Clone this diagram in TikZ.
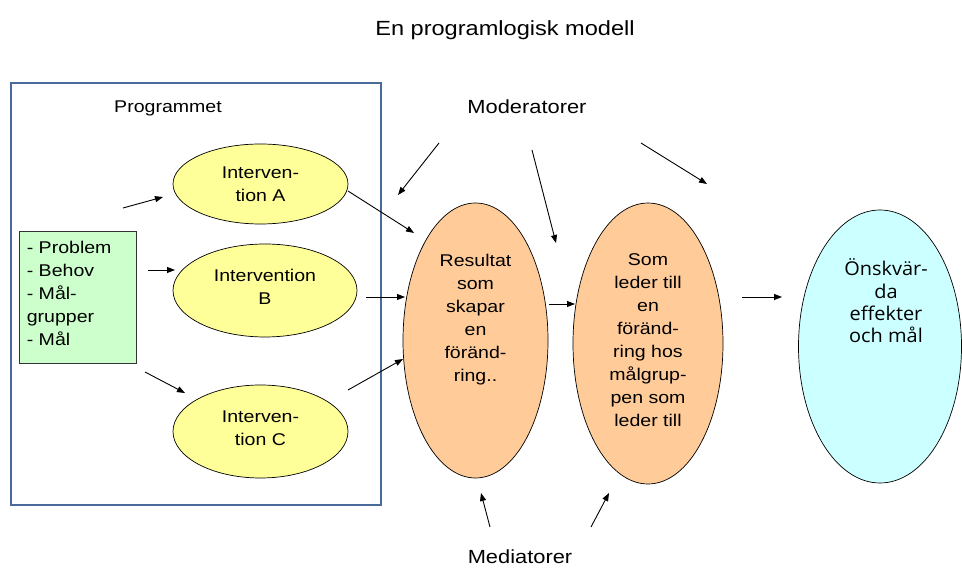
\documentclass[tikz,border=0pt]{standalone}
\usepackage{fontspec}
\setmainfont{Liberation Sans}[FakeStretch=1.15]
\newfontfamily\goalfont{Open Sans}[FakeStretch=1.05]
\usepackage{xcolor}
\usetikzlibrary{arrows.meta, positioning, shapes.geometric}
\definecolor{progblue}{HTML}{4A6A9C}
\definecolor{needsgreen}{HTML}{CCFFCC}
\definecolor{intyellow}{HTML}{FFFF99}
\definecolor{resorange}{HTML}{FFCC99}
\definecolor{goalcyan}{HTML}{CCFFFF}
\tikzset{
    arr/.style={-{Triangle[length=8pt,width=6pt]}, line width=0.9pt},
    blob/.style={ellipse, draw=black, line width=0.7pt, inner sep=0pt, align=center},
    txt/.style={align=center, inner sep=0pt},
    every node/.style={font=\fontsize{17}{23}\selectfont}
}

\begin{document}
\begin{tikzpicture}[x=1pt, y=1pt]
    \useasboundingbox (0,0) rectangle (962,568);
    % Headings
    \node[anchor=base, font=\fontsize{20.5}{24}\selectfont] (title) at (505,532) {En programlogisk modell};
    \node[anchor=base, font=\fontsize{19}{23}\selectfont] (mod) at (527,454) {Moderatorer};
    \node[anchor=base, font=\fontsize{19}{23}\selectfont] (med) at (520,5) {Mediatorer};
    % The programme
    \draw[progblue, line width=2.5pt] (11,63) rectangle (381,485);
    \node[anchor=base] (prog) at (168,455) {Programmet};
    \node[draw=black!80, fill=needsgreen, line width=0.8pt, minimum width=117pt, minimum height=132pt,
          inner sep=0pt] (needs) at (77.5,271) {};
    \node[align=left, inner sep=0pt, below right=10pt and 8pt of needs.north west] (needstxt)
        {- Problem\\- Behov\\- Mål-\\grupper\\- Mål};
    \node[blob, fill=intyellow, minimum width=175pt, minimum height=80pt] (intA) at (260.5,384) {Interven-\\tion A};
    \node[blob, fill=intyellow, minimum width=184pt, minimum height=93pt, text depth=8pt] (intB) at (265,277.5) {Intervention\\B};
    \node[blob, fill=intyellow, minimum width=175pt, minimum height=93pt, text depth=7pt] (intC) at (260.5,136.5) {Interven-\\tion C};
    % Results and effects
    \node[blob, fill=resorange, minimum width=145pt, minimum height=275pt] (result) at (475.5,227.5) {};
    \node[txt, below=51pt of result.north] (resulttxt) {Resultat\\som\\skapar\\en\\föränd-\\ring..};
    \node[blob, fill=resorange, minimum width=150pt, minimum height=281pt] (change) at (648,224.5) {};
    \node[txt, below=51pt of change.north] (changetxt) {Som\\leder till\\en\\föränd-\\ring hos\\målgrup-\\pen som\\leder till};
    \node[blob, fill=goalcyan, minimum width=163pt, minimum height=273pt] (goal) at (880,221.5) {};
    \node[txt, font=\goalfont\fontsize{19}{22.3}\selectfont, below=49pt of goal.north, xshift=6pt] (goaltxt)
        {Önskvär-\\da\\effekter\\och mål};
    % Arrow ends
    \coordinate (s1) at (123,360);  \coordinate (e1) at (163,371);
    \coordinate (s2) at (148,298);  \coordinate (e2) at (175,298);
    \coordinate (s3) at (145,196);  \coordinate (e3) at (185,175);
    \coordinate (s4) at (348,377);  \coordinate (e4) at (414,335);
    \coordinate (s5) at (366,271);  \coordinate (e5) at (405,271);
    \coordinate (s6) at (348,178);  \coordinate (e6) at (403,209);
    \coordinate (m1) at (439,425);  \coordinate (n1) at (398,373);
    \coordinate (m2) at (532,418);  \coordinate (n2) at (556,325);
    \coordinate (m3) at (641,425);  \coordinate (n3) at (707,384);
    \coordinate (s7) at (549,264);  \coordinate (e7) at (575,264);
    \coordinate (s8) at (742,271);  \coordinate (e8) at (782,271);
    \coordinate (d1) at (490,41);   \coordinate (f1) at (481,75);
    \coordinate (d2) at (591,41);   \coordinate (f2) at (609,75);
    % Arrows
    \draw[arr] (s1) -- (e1);
    \draw[arr] (s2) -- (e2);
    \draw[arr] (s3) -- (e3);
    \draw[arr] (s4) -- (e4);
    \draw[arr] (s5) -- (e5);
    \draw[arr] (s6) -- (e6);
    \draw[arr] (m1) -- (n1);
    \draw[arr] (m2) -- (n2);
    \draw[arr] (m3) -- (n3);
    \draw[arr] (s7) -- (e7);
    \draw[arr] (s8) -- (e8);
    \draw[arr] (d1) -- (f1);
    \draw[arr] (d2) -- (f2);
\end{tikzpicture}
\end{document}
